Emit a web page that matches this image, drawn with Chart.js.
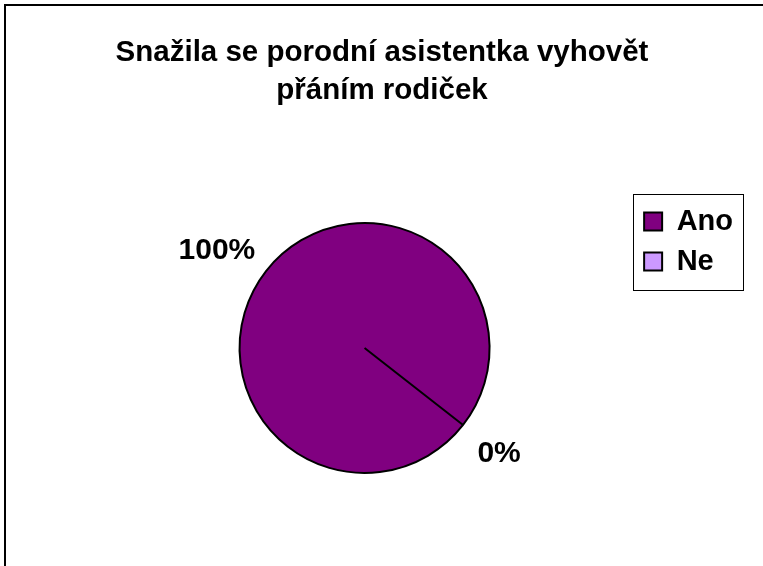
<!DOCTYPE html>
<html>
<head>
<meta charset="utf-8">
<script src="https://cdn.jsdelivr.net/npm/chart.js@4.4.0/dist/chart.umd.min.js"></script>
<style>
    html, body { margin: 0; padding: 0; background: #fff; }
    #wrap { position: relative; width: 763px; height: 566px; }
</style>
</head>
<body>
<div id="wrap"><canvas id="pieChart" width="763" height="566"></canvas></div>
<script>
// data
const titleLines = ['Snažila se porodní asistentka vyhovět', 'přáním rodiček'];
const categories = ['Ano', 'Ne'];
const values = [100, 0];
const sliceColors = ['#800080', '#CC99FF'];

const FONT = '"Liberation Sans", Arial, sans-serif';

// ramecek, titulek a popisky (procenta)
const extrasPlugin = {
    id: 'extras',
    beforeDraw(chart) {
        const ctx = chart.ctx;
        ctx.save();
        ctx.strokeStyle = '#000';
        ctx.lineWidth = 2;
        ctx.beginPath();
        ctx.moveTo(5, chart.height);
        ctx.lineTo(5, 5);
        ctx.lineTo(chart.width, 5);
        ctx.stroke();
        ctx.restore();
    },
    afterDatasetsDraw(chart) {
        const ctx = chart.ctx;
        const meta = chart.getDatasetMeta(0);
        const total = values.reduce((a, b) => a + b, 0);
        ctx.save();
        ctx.font = 'bold 30px ' + FONT;
        ctx.fillStyle = '#000';
        ctx.textAlign = 'center';
        ctx.textBaseline = 'middle';
        meta.data.forEach((arc, i) => {
            const p = arc.getProps(['x', 'y', 'startAngle', 'endAngle', 'outerRadius'], true);
            const mid = (p.startAngle + p.endAngle) / 2;
            const dx = Math.cos(mid), dy = Math.sin(mid);
            const text = Math.round(values[i] / total * 100) + '%';
            const halfW = ctx.measureText(text).width / 2;
            const cx = p.x + dx * (p.outerRadius + 24) + dx * halfW;
            const cy = p.y + dy * (p.outerRadius + 24) + dy * 16 + 4;
            ctx.fillText(text, cx, cy);
        });
        ctx.restore();
    },
    afterDraw(chart) {
        const ctx = chart.ctx;
        ctx.save();
        ctx.font = 'bold 29.5px ' + FONT;
        ctx.fillStyle = '#000';
        ctx.textAlign = 'center';
        ctx.textBaseline = 'middle';
        ctx.fillText(titleLines[0], 382, 53);
        ctx.fillText(titleLines[1], 382, 91);

        // ramecek kolem legendy
        const lg = chart.legend;
        const pad = lg.options.labels.padding;
        ctx.strokeStyle = '#000';
        ctx.lineWidth = 1;
        ctx.strokeRect(Math.round(lg.left) + 0.5, lg.top - 2 + 0.5,
            Math.round(lg.width), lg.columnSizes[0].height + pad + 5);
        ctx.restore();
    }
};

new Chart(document.getElementById('pieChart'), {
    type: 'pie',
    data: {
        labels: categories,
        datasets: [{
            data: values,
            backgroundColor: sliceColors,
            borderColor: '#000',
            borderWidth: 2
        }]
    },
    options: {
        responsive: false,
        animation: false,
        rotation: 128,
        radius: 125,
        layout: { padding: { left: 96, right: 20, top: 196, bottom: 66 } },
        plugins: {
            title: { display: false },
            tooltip: { enabled: false },
            legend: {
                position: 'right',
                align: 'start',
                labels: {
                    boxWidth: 18,
                    boxHeight: 18,
                    padding: 11,
                    color: '#000',
                    font: { family: FONT, size: 29, weight: 'bold' }
                }
            }
        }
    },
    plugins: [extrasPlugin]
});
</script>
</body>
</html>
